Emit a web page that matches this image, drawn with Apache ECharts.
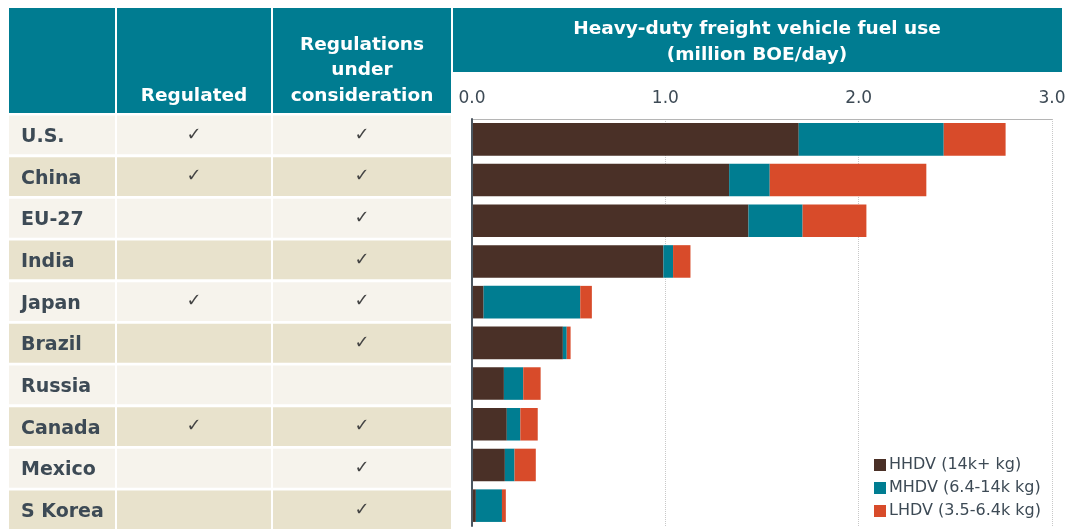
<!DOCTYPE html>
<html>
<head>
<meta charset="utf-8">
<script src="https://cdn.jsdelivr.net/npm/echarts@6/dist/echarts.min.js"></script>
<style>
  html, body { margin: 0; padding: 0; background: #fff; }
  #chart { width: 1070px; height: 529px; }
</style>
</head>
<body>
<div id="chart"></div>
<script>
// data
const countries = ['U.S.', 'China', 'EU-27', 'India', 'Japan', 'Brazil', 'Russia', 'Canada', 'Mexico', 'S Korea']
const regulated = [true, true, false, false, true, false, false, true, false, false]
const underConsideration = [true, true, true, true, true, true, false, true, true, true]
const hhdv = [1.69, 1.33, 1.43, 0.99, 0.06, 0.47, 0.165, 0.18, 0.17, 0.02]
const mhdv = [0.75, 0.21, 0.28, 0.05, 0.50, 0.02, 0.10, 0.07, 0.05, 0.135]
const lhdv = [0.32, 0.81, 0.33, 0.09, 0.06, 0.02, 0.09, 0.09, 0.11, 0.02]
const seriesNames = ['HHDV (14k+ kg)', 'MHDV (6.4-14k kg)', 'LHDV (3.5-6.4k kg)']
const xTicks = [0, 1, 2, 3]

const TEAL = '#007c91'
const INK = '#3d4a55'
const FONT = '"DejaVu Sans", sans-serif'

// table drawn as graphic elements
const cols = [[9, 115], [117, 271], [273, 451]]
const rowTop = 115.5, rowPitch = 41.67, rowH = 38.8
const graphic = []

cols.forEach(c => graphic.push({ type: 'rect', shape: { x: c[0], y: 8, width: c[1] - c[0], height: 105 }, style: { fill: TEAL } }))
graphic.push({ type: 'rect', shape: { x: 453, y: 8, width: 609, height: 64 }, style: { fill: TEAL } })

const headText = (text, x, y) => ({
  type: 'text', style: { text, x, y, align: 'center', verticalAlign: 'middle', fill: '#fff', font: 'bold 18.5px ' + FONT }
})
graphic.push(headText('Regulated', 194, 96))
graphic.push(headText('Regulations', 362, 45))
graphic.push(headText('under', 362, 70))
graphic.push(headText('consideration', 362, 96))
graphic.push(headText('Heavy-duty freight vehicle fuel use', 757, 29))
graphic.push(headText('(million BOE/day)', 757, 55))

countries.forEach((name, i) => {
  const y = rowTop + i * rowPitch
  const fill = i % 2 ? '#e8e2cc' : '#f6f3ec'
  cols.forEach(c => graphic.push({ type: 'rect', shape: { x: c[0], y, width: c[1] - c[0], height: rowH }, style: { fill } }))
  graphic.push({ type: 'text', style: { text: name, x: 21, y: y + rowH / 2 + 2, verticalAlign: 'middle', fill: INK, font: 'bold 19px ' + FONT } })
  const check = x => ({ type: 'text', style: { text: '✓', x, y: y + rowH / 2, align: 'center', verticalAlign: 'middle', fill: '#444', font: '18px "DejaVu Sans"' } })
  if (regulated[i]) graphic.push(check(194))
  if (underConsideration[i]) graphic.push(check(362))
})

const chart = echarts.init(document.getElementById('chart'))
const colors = ['#4a3027', '#007d91', '#d84b2a']

chart.setOption({
  animation: false,
  color: colors,
  graphic,
  grid: { left: 472, top: 119, width: 580, height: 407 },
  legend: {
    orient: 'vertical', left: 869, top: 452,
    itemWidth: 12, itemHeight: 12, itemGap: 7, icon: 'rect',
    textStyle: { fontSize: 16, color: INK, fontFamily: FONT, padding: [0, 0, 0, -2] },
    data: seriesNames
  },
  xAxis: {
    type: 'value', position: 'top', min: xTicks[0], max: xTicks[xTicks.length - 1], interval: 1,
    axisLabel: { formatter: v => v.toFixed(1), fontSize: 17, color: INK, fontFamily: FONT, margin: 12 },
    axisLine: { show: true, lineStyle: { color: '#b5b5b5' } },
    axisTick: { show: false },
    splitLine: { lineStyle: { type: 'dotted', color: '#c8c8c8' } }
  },
  yAxis: {
    type: 'category', inverse: true, data: countries, z: 5,
    axisLabel: { show: false }, axisTick: { show: false },
    axisLine: { show: true, lineStyle: { color: '#4b5660', width: 2 } }
  },
  series: [hhdv, mhdv, lhdv].map((d, k) => ({
    name: seriesNames[k], type: 'bar', stack: 'total', data: d,
    barCategoryGap: '20%'
  }))
})
</script>
</body>
</html>
